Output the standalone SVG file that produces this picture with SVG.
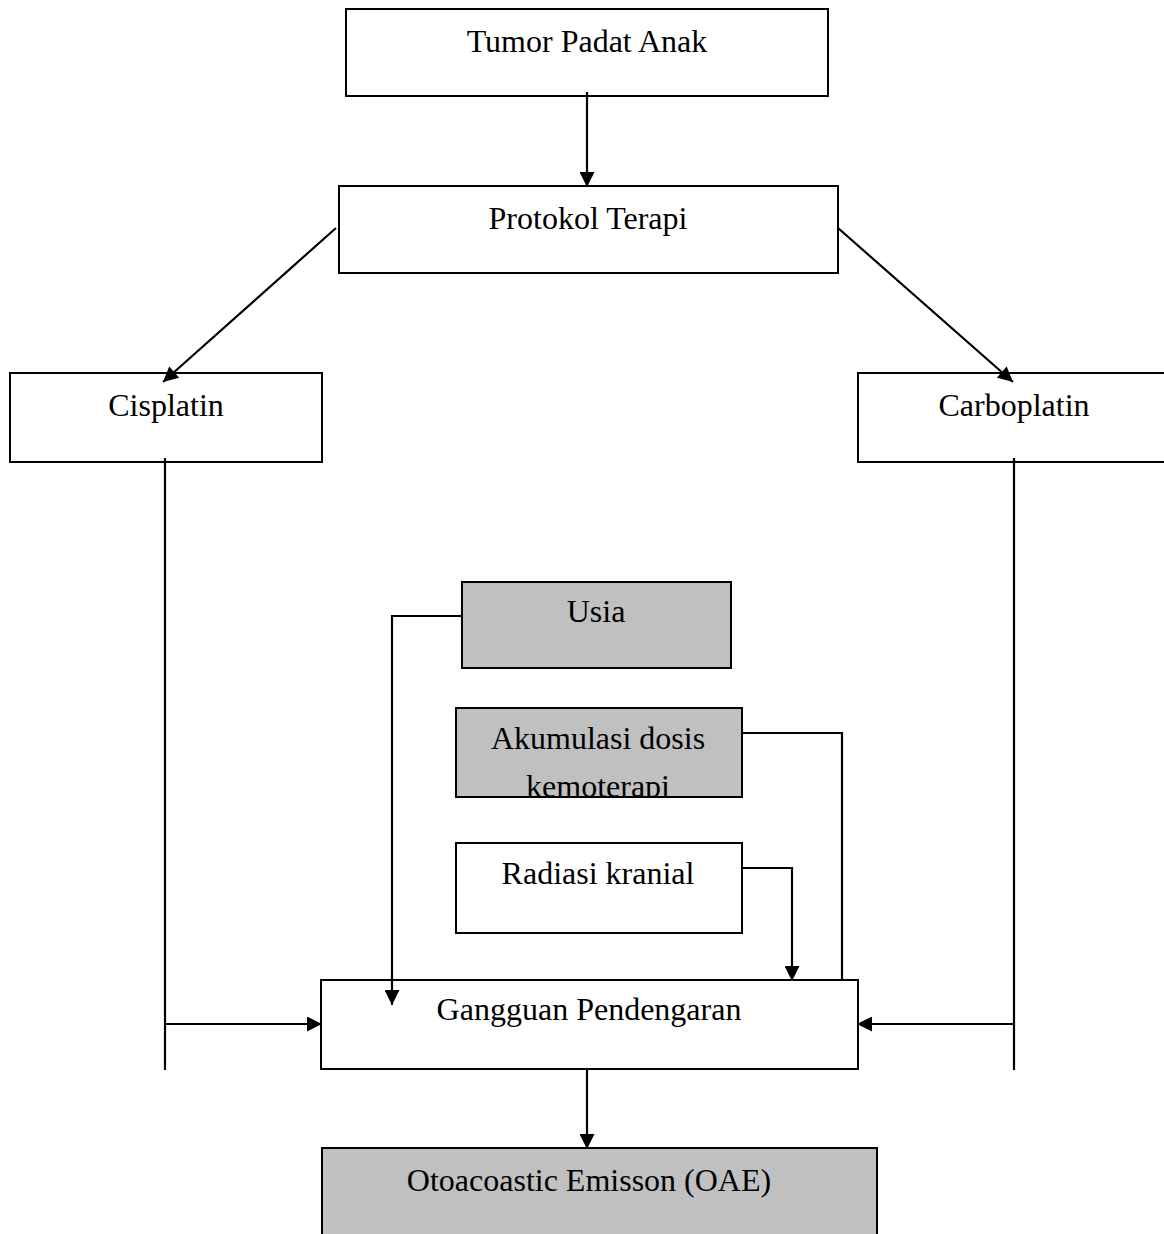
<svg xmlns="http://www.w3.org/2000/svg" width="1164" height="1234" viewBox="0 0 1164 1234">
<style>
.box{stroke:#000;stroke-width:2;fill:#fff}
.gray{fill:#c0c0c0}
.lbl{font-family:"Liberation Serif","Times New Roman",serif;font-size:32px;fill:#000;text-anchor:middle}
.ln{stroke:#000;stroke-width:2.2;fill:none}
</style>
<defs>
<marker id="ah" viewBox="0 0 10 10" refX="10" refY="5" markerWidth="17" markerHeight="15" markerUnits="userSpaceOnUse" orient="auto">
<path d="M0,0 L10,5 L0,10 z" fill="#000"/>
</marker>
<clipPath id="clipAk"><rect x="456" y="708" width="286" height="89"/></clipPath>
</defs>
<rect width="1164" height="1234" fill="#fff"/>
<g id="n-tumor"><rect class="box" x="346" y="9" width="482" height="87"/><text class="lbl" x="587" y="52">Tumor Padat Anak</text></g>
<g id="n-protokol"><rect class="box" x="339" y="186" width="499" height="87"/><text class="lbl" x="588" y="229">Protokol Terapi</text></g>
<g id="n-cisplatin"><rect class="box" x="10" y="373" width="312" height="89"/><text class="lbl" x="166" y="416">Cisplatin</text></g>
<g id="n-carboplatin"><rect class="box" x="858" y="373" width="320" height="89"/><text class="lbl" x="1014" y="416">Carboplatin</text></g>
<g id="n-usia"><rect class="box gray" x="462" y="582" width="269" height="86"/><text class="lbl" x="596" y="622">Usia</text></g>
<g id="n-akumulasi"><rect class="box gray" x="456" y="708" width="286" height="89"/><g clip-path="url(#clipAk)"><text class="lbl" x="598" y="749">Akumulasi dosis</text><text class="lbl" x="598" y="797">kemoterapi</text></g><rect x="456" y="708" width="286" height="89" fill="none" stroke="#000" stroke-width="2"/></g>
<g id="n-radiasi"><rect class="box" x="456" y="843" width="286" height="90"/><text class="lbl" x="598" y="884">Radiasi kranial</text></g>
<g id="n-gangguan"><rect class="box" x="321" y="980" width="537" height="89"/><text class="lbl" x="589" y="1020">Gangguan Pendengaran</text></g>
<g id="n-oae"><rect class="box gray" x="322" y="1148" width="555" height="100"/><text class="lbl" x="589" y="1191">Otoacoastic Emisson (OAE)</text></g>
<g id="connectors">
<line class="ln" x1="587" y1="92" x2="587" y2="187" marker-end="url(#ah)"/>
<line class="ln" x1="336" y1="228" x2="163" y2="382" marker-end="url(#ah)"/>
<line class="ln" x1="838" y1="228" x2="1013" y2="382" marker-end="url(#ah)"/>
<line class="ln" x1="165" y1="458" x2="165" y2="1070"/>
<line class="ln" x1="1014" y1="458" x2="1014" y2="1070"/>
<line class="ln" x1="165" y1="1024" x2="322" y2="1024" marker-end="url(#ah)"/>
<line class="ln" x1="1014" y1="1024" x2="857" y2="1024" marker-end="url(#ah)"/>
<polyline class="ln" points="462,616 392,616 392,1005" marker-end="url(#ah)"/>
<polyline class="ln" points="742,733 842,733 842,980"/>
<polyline class="ln" points="742,868 792,868 792,981" marker-end="url(#ah)"/>
<line class="ln" x1="587" y1="1069" x2="587" y2="1149" marker-end="url(#ah)"/>
</g>
</svg>
